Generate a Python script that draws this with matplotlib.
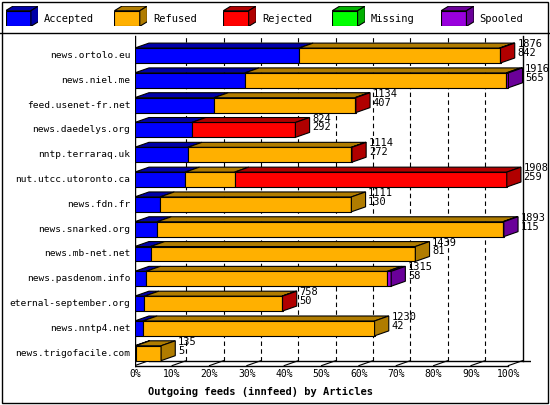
import matplotlib
matplotlib.use("Agg")
import matplotlib.pyplot as plt
from matplotlib.patches import Polygon, Rectangle

hosts = ["news.ortolo.eu","news.niel.me","feed.usenet-fr.net","news.daedelys.org","nntp.terraraq.uk",
         "nut.utcc.utoronto.ca","news.fdn.fr","news.snarked.org","news.mb-net.net","news.pasdenom.info",
         "eternal-september.org","news.nntp4.net","news.trigofacile.com"]
accepted = [842,565,407,292,272,259,130,115,81,58,50,42,5]
refused  = [1029,1341,722,0,839,253,981,1773,1358,1237,705,1188,130]
rejected = [5,0,5,532,3,1396,0,0,0,0,3,0,0]
missing  = [0]*13
spooled  = [0,10,0,0,0,0,0,5,0,20,0,0,0]
totals   = [1876,1916,1134,824,1114,1908,1111,1893,1439,1315,758,1230,135]
series = ["Accepted","Refused","Rejected","Missing","Spooled"]
front = ["#0000ff","#ffb000","#ff0000","#00ff00","#9900dd"]
dark  = ["#0000a8","#b07c00","#b00000","#00b000","#6a0099"]
ticks = list(range(0,101,10))

fig = plt.figure(figsize=(5.5,4.05), dpi=100)
fig.patches.append(Rectangle((0.004,0.004),0.992,0.99,transform=fig.transFigure,fill=False,lw=1,ec="black"))
mono = "DejaVu Sans Mono"
for i,(s,fc,dc) in enumerate(zip(series,front,dark)):
    x0 = 0.01 + i*0.198
    lax = fig.add_axes([x0,0.935,0.06,0.05]); lax.axis("off")
    lax.set_xlim(0,1.3); lax.set_ylim(0,1.3)
    lax.add_patch(Rectangle((0,0),1,1,fc=fc,ec="black",lw=0.8))
    lax.add_patch(Polygon([(0,1),(0.3,1.3),(1.3,1.3),(1,1)],fc=dc,ec="black",lw=0.8))
    lax.add_patch(Polygon([(1,0),(1.3,0.3),(1.3,1.3),(1,1)],fc=dc,ec="black",lw=0.8))
    fig.text(x0+0.07,0.952,s,fontsize=7.5,family=mono,va="center")
fig.add_artist(plt.Line2D([0,1],[0.918,0.918],transform=fig.transFigure,color="black",lw=1))

ax = fig.add_axes([0.245,0.085,0.72,0.83])
n = len(hosts)
dx, dy, h = 3.8, 0.2, 0.6
ax.set_xlim(0,106); ax.set_ylim(n-0.3,-0.85)
ax.axis("off")
floor = n-0.5
for t in ticks:
    if 0 < t <= 90:
        ax.plot([t+dx,t+dx],[floor-dy,-0.8],ls=(0,(4,3)),color="black",lw=0.8,zorder=0)
    ax.plot([t,t+dx],[floor,floor-dy],color="black",lw=0.8,zorder=0)
    ax.text(t,floor+0.12,f"{t}%",ha="center",va="top",fontsize=7,family=mono)
ax.plot([0,100],[floor,floor],color="black",lw=1,zorder=0)
ax.plot([dx,106],[floor-dy,floor-dy],color="black",lw=1,zorder=0)
ax.plot([0,0],[floor,-0.8],color="black",lw=1,zorder=0)
ax.plot([100+dx,100+dx],[floor-dy,-0.8],color="black",lw=1,zorder=0)
mx = max(totals)
for i in range(n):
    vals = [accepted[i],refused[i],rejected[i],missing[i],spooled[i]]
    left = 0
    yb, yt = i+h/2, i-h/2
    last = None
    for k,v in enumerate(vals):
        if v <= 0: continue
        w = v/mx*100
        ax.add_patch(Rectangle((left,yt),w,h,fc=front[k],ec="black",lw=0.8,zorder=2))
        ax.add_patch(Polygon([(left,yt),(left+dx,yt-dy),(left+w+dx,yt-dy),(left+w,yt)],fc=dark[k],ec="black",lw=0.8,zorder=2))
        left += w; last = k
    ax.add_patch(Polygon([(left,yt),(left+dx,yt-dy),(left+dx,yb-dy),(left,yb)],fc=dark[last],ec="black",lw=0.8,zorder=2))
    ax.text(left+dx+0.7,i-0.28,f"{totals[i]}\n{accepted[i]}",fontsize=7.5,family=mono,va="center",linespacing=0.85,zorder=3)
    ax.text(-1.2,i,hosts[i],ha="right",va="center",fontsize=6.8,family=mono)
fig.text(0.27,0.025,"Outgoing feeds (innfeed) by Articles",fontsize=7.5,family=mono,weight="bold")
fig.savefig("out.png",dpi=100)
